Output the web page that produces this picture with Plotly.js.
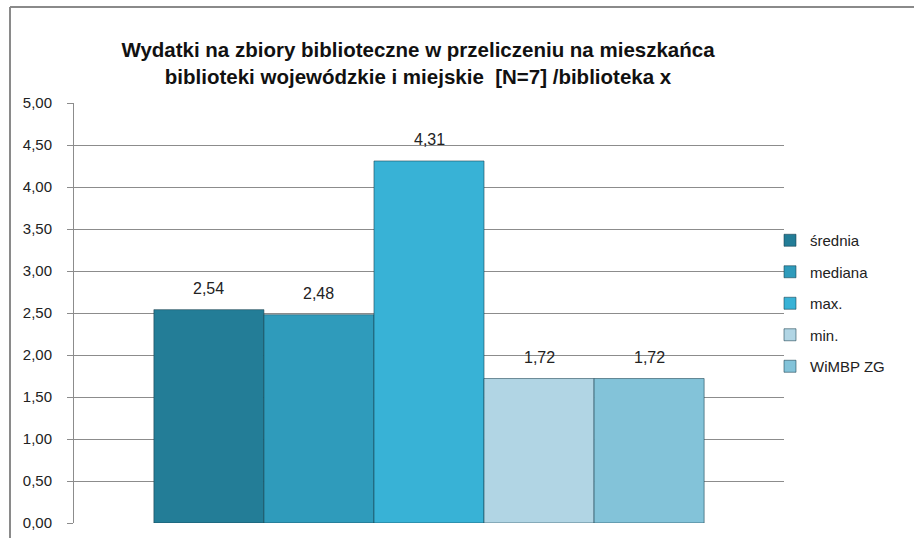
<!DOCTYPE html>
<html>
<head>
<meta charset="utf-8">
<script src="https://cdn.plot.ly/plotly-3.0.1.min.js"></script>
<style>
html,body{margin:0;padding:0;background:#fff;}
#chart{width:914px;height:538px;}
</style>
</head>
<body>
<div id="chart"></div>
<script>
const seriesNames = ['średnia', 'mediana', 'max.', 'min.', 'WiMBP ZG'];
const seriesValues = [2.54, 2.48, 4.31, 1.72, 1.72];
const valueLabels = ['2,54', '2,48', '4,31', '1,72', '1,72'];
const category = [''];
const seriesColors = ['#237d97', '#2f9bbb', '#38b2d6', '#b1d5e4', '#83c3d9'];
const yTicks = [0, 0.5, 1, 1.5, 2, 2.5, 3, 3.5, 4, 4.5, 5];
const yTickText = ['0,00','0,50','1,00','1,50','2,00','2,50','3,00','3,50','4,00','4,50','5,00'];

const FONT = 'Liberation Sans, Arial, sans-serif';
const W = 914, H = 538;
const m = {l: 74, r: 130, t: 103, b: 15};
const pw = W - m.l - m.r, ph = H - m.t - m.b;

const traces = seriesNames.map((n, i) => ({
  type: 'bar',
  name: n,
  x: category,
  y: [seriesValues[i]],
  legendgroup: 'g' + i,
  marker: {color: seriesColors[i], line: {color: 'rgba(20,60,75,0.55)', width: 1}},
  hoverinfo: 'none'
}));

// data labels above bars, positioned via the library's axes
const bargap = 0.225;
const barW = pw * (1 - bargap) / seriesNames.length;
const annotations = seriesNames.map((n, i) => ({
  xref: 'x', yref: 'y',
  x: 0, y: seriesValues[i],
  xshift: (i - (seriesNames.length - 1) / 2) * barW,
  yshift: 21,
  text: valueLabels[i],
  showarrow: false,
  font: {family: FONT, size: 16, color: '#222'}
}));

// outer chart frame (paper coordinates)
const px = v => (v - m.l) / pw;
const py = v => 1 - (v - m.t) / ph;
const shapes = [
  {type: 'line', xref: 'paper', yref: 'paper', x0: px(10), x1: px(10), y0: py(7), y1: py(545), line: {color: '#8a8a8a', width: 2}},
  {type: 'line', xref: 'paper', yref: 'paper', x0: px(10), x1: px(920), y0: py(7), y1: py(7), line: {color: '#8a8a8a', width: 2}}
];

const layout = {
  width: W, height: H,
  margin: m,
  paper_bgcolor: '#fff', plot_bgcolor: '#fff',
  separators: ', ',
  font: {family: FONT, size: 15, color: '#222'},
  title: {
    text: '<b>Wydatki na zbiory biblioteczne w przeliczeniu na mieszkańca<br>biblioteki wojewódzkie i miejskie  [N=7] /biblioteka x</b>',
    font: {family: FONT, size: 20.5, color: '#111'},
    xref: 'container', x: 418 / W, xanchor: 'center',
    yref: 'container', y: 1 - 57/538, yanchor: 'middle'
  },
  barmode: 'group',
  bargap: bargap,
  bargroupgap: 0,
  xaxis: {
    showticklabels: false, showgrid: false, zeroline: false,
    showline: false, ticks: '', fixedrange: true
  },
  yaxis: {
    range: [0, 5],
    tickvals: yTicks, ticktext: yTickText,
    showgrid: true, gridcolor: '#8c8c8c', gridwidth: 1,
    zeroline: false,
    showline: true, linecolor: '#8c8c8c', linewidth: 1,
    ticks: 'outside', ticklen: 6, tickcolor: '#8c8c8c',
    ticklabelstandoff: 12,
    tickfont: {family: FONT, size: 15, color: '#222'},
    fixedrange: true
  },
  legend: {
    x: px(770), xanchor: 'left',
    y: py(224), yanchor: 'top',
    font: {family: FONT, size: 15, color: '#222'},
    tracegroupgap: 9,
    itemwidth: 30,
    bgcolor: 'rgba(0,0,0,0)'
  },
  showlegend: true,
  annotations: annotations,
  shapes: shapes
};

Plotly.newPlot('chart', traces, layout, {displayModeBar: false, staticPlot: true});
</script>
</body>
</html>
